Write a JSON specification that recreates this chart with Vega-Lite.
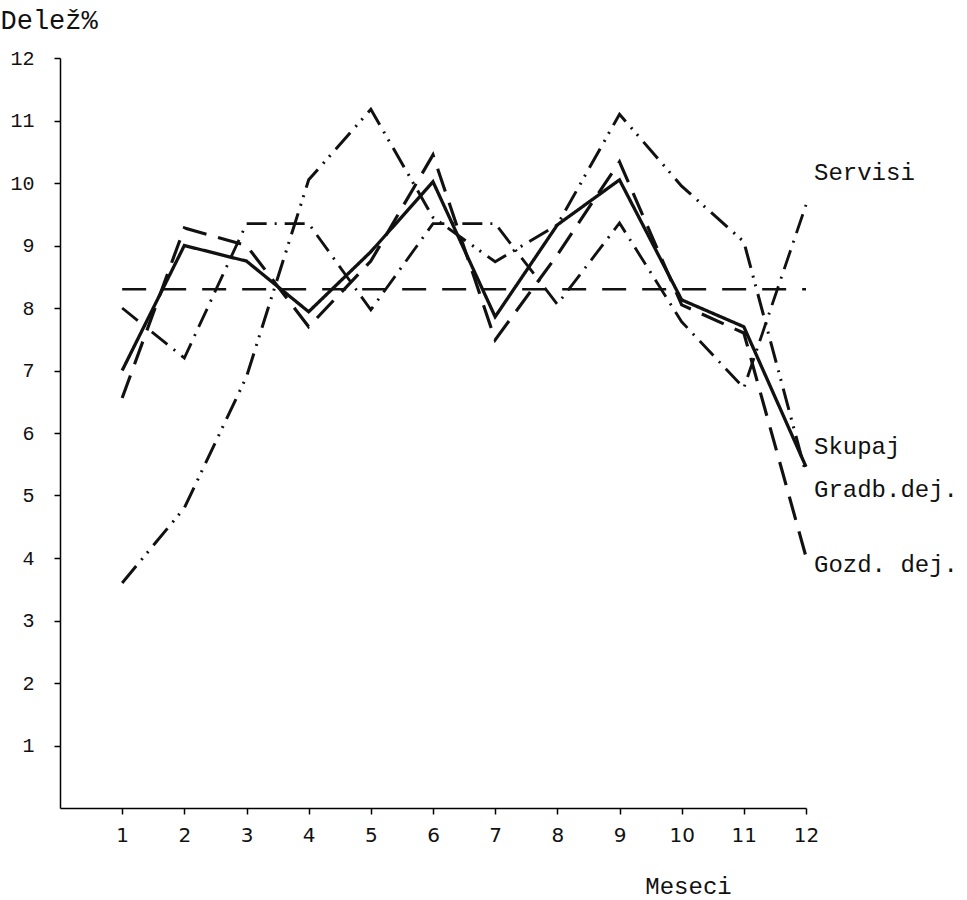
{
  "$schema": "https://vega.github.io/schema/vega-lite/v6.json",
  "width": 746,
  "height": 750,
  "autosize": {"type": "none"},
  "padding": {"left": 60, "top": 58, "right": 161, "bottom": 92},
  "background": "white",
  "config": {
    "view": {"stroke": null},
    "axis": {"grid": false, "domainColor": "#000", "tickColor": "#000", "labelColor": "#111", "titleColor": "#111", "domainWidth": 1.5, "tickWidth": 1.5}
  },
  "datasets": {
    "series": [
      {"series": "Skupaj", "month": 1, "value": 7.0},
      {"series": "Skupaj", "month": 2, "value": 9.0},
      {"series": "Skupaj", "month": 3, "value": 8.75},
      {"series": "Skupaj", "month": 4, "value": 7.94},
      {"series": "Skupaj", "month": 5, "value": 8.9},
      {"series": "Skupaj", "month": 6, "value": 10.02},
      {"series": "Skupaj", "month": 7, "value": 7.86},
      {"series": "Skupaj", "month": 8, "value": 9.33},
      {"series": "Skupaj", "month": 9, "value": 10.05},
      {"series": "Skupaj", "month": 10, "value": 8.13},
      {"series": "Skupaj", "month": 11, "value": 7.7},
      {"series": "Skupaj", "month": 12, "value": 5.46},
      {"series": "Gozd. dej.", "month": 1, "value": 6.56},
      {"series": "Gozd. dej.", "month": 2, "value": 9.28},
      {"series": "Gozd. dej.", "month": 3, "value": 9.0},
      {"series": "Gozd. dej.", "month": 4, "value": 7.7},
      {"series": "Gozd. dej.", "month": 5, "value": 8.75},
      {"series": "Gozd. dej.", "month": 6, "value": 10.45},
      {"series": "Gozd. dej.", "month": 7, "value": 7.49},
      {"series": "Gozd. dej.", "month": 8, "value": 8.85},
      {"series": "Gozd. dej.", "month": 9, "value": 10.34},
      {"series": "Gozd. dej.", "month": 10, "value": 8.05},
      {"series": "Gozd. dej.", "month": 11, "value": 7.6},
      {"series": "Gozd. dej.", "month": 12, "value": 4.02},
      {"series": "Gradb.dej.", "month": 1, "value": 3.6},
      {"series": "Gradb.dej.", "month": 2, "value": 4.8},
      {"series": "Gradb.dej.", "month": 3, "value": 6.9},
      {"series": "Gradb.dej.", "month": 4, "value": 10.05},
      {"series": "Gradb.dej.", "month": 5, "value": 11.18},
      {"series": "Gradb.dej.", "month": 6, "value": 9.45},
      {"series": "Gradb.dej.", "month": 7, "value": 8.74},
      {"series": "Gradb.dej.", "month": 8, "value": 9.33},
      {"series": "Gradb.dej.", "month": 9, "value": 11.1},
      {"series": "Gradb.dej.", "month": 10, "value": 9.95},
      {"series": "Gradb.dej.", "month": 11, "value": 9.06},
      {"series": "Gradb.dej.", "month": 12, "value": 5.35},
      {"series": "Servisi", "month": 1, "value": 8.0},
      {"series": "Servisi", "month": 2, "value": 7.2},
      {"series": "Servisi", "month": 3, "value": 9.35},
      {"series": "Servisi", "month": 4, "value": 9.35},
      {"series": "Servisi", "month": 5, "value": 7.97},
      {"series": "Servisi", "month": 6, "value": 9.35},
      {"series": "Servisi", "month": 7, "value": 9.35},
      {"series": "Servisi", "month": 8, "value": 8.06},
      {"series": "Servisi", "month": 9, "value": 9.36},
      {"series": "Servisi", "month": 10, "value": 7.78},
      {"series": "Servisi", "month": 11, "value": 6.72},
      {"series": "Servisi", "month": 12, "value": 9.65},
      {"series": "Povprečje", "month": 1, "value": 8.3},
      {"series": "Povprečje", "month": 12, "value": 8.3}
    ],
    "labels": [
      {"label": "Servisi", "month": 12, "value": 10.16},
      {"label": "Skupaj", "month": 12, "value": 5.78},
      {"label": "Gradb.dej.", "month": 12, "value": 5.09},
      {"label": "Gozd. dej.", "month": 12, "value": 3.89}
    ]
  },
  "layer": [
    {
      "data": {"name": "series"},
      "mark": {"type": "line", "color": "#111", "strokeCap": "butt", "strokeJoin": "miter"},
      "encoding": {
        "x": {
          "field": "month", "type": "quantitative",
          "scale": {"domain": [0, 12], "nice": false, "zero": false},
          "axis": {
            "values": [1, 2, 3, 4, 5, 6, 7, 8, 9, 10, 11, 12], "format": "d",
            "title": "Meseci", "titleFont": "Liberation Mono", "titleFontSize": 24, "titleFontWeight": "normal",
            "titleAnchor": "start", "titleAlign": "center", "titleX": 628, "titleY": 85, "titleBaseline": "alphabetic",
            "labelFont": "DejaVu Sans", "labelFontSize": 20, "tickSize": 6, "labelPadding": 11, "labelFlush": false
          }
        },
        "y": {
          "field": "value", "type": "quantitative",
          "scale": {"domain": [0, 12], "nice": false},
          "axis": {
            "values": [1, 2, 3, 4, 5, 6, 7, 8, 9, 10, 11, 12], "format": "d",
            "title": "Delež%", "titleAngle": 0, "titleFont": "Liberation Mono", "titleFontSize": 27, "titleFontWeight": "normal",
            "titleAlign": "left", "titleAnchor": "start", "titleX": -60, "titleY": -30, "titleBaseline": "alphabetic",
            "labelFont": "Liberation Mono", "labelFontSize": 20, "tickSize": 6, "labelPadding": 20, "labelFlush": false
          }
        },
        "detail": {"field": "series", "type": "nominal"},
        "strokeDash": {
          "field": "series", "type": "nominal",
          "scale": {
            "domain": ["Skupaj", "Gozd. dej.", "Gradb.dej.", "Servisi", "Povprečje"],
            "range": [[1, 0], [24, 12], [22, 8, 2, 7, 2, 8], [20, 8, 2, 8], [24, 16]]
          },
          "legend": null
        },
        "strokeWidth": {
          "field": "series", "type": "nominal",
          "scale": {
            "domain": ["Skupaj", "Gozd. dej.", "Gradb.dej.", "Servisi", "Povprečje"],
            "range": [3.3, 2.7, 2.7, 2.7, 1.5]
          },
          "legend": null
        },
        "order": {"field": "month", "type": "quantitative"}
      }
    },
    {
      "data": {"name": "labels"},
      "mark": {"type": "text", "align": "left", "baseline": "middle", "dx": 8, "font": "Liberation Mono", "fontSize": 24, "color": "#111"},
      "encoding": {
        "x": {"field": "month", "type": "quantitative"},
        "y": {"field": "value", "type": "quantitative"},
        "text": {"field": "label"}
      }
    }
  ]
}
